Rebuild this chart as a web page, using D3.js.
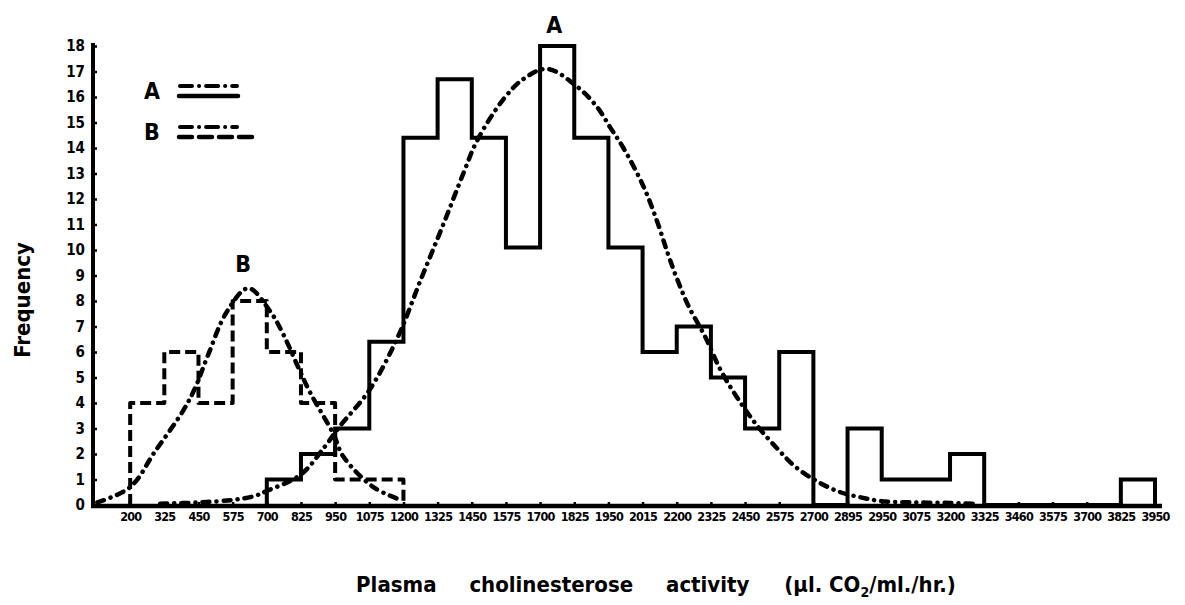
<!DOCTYPE html>
<html>
<head>
<meta charset="utf-8">
<script src="https://cdn.jsdelivr.net/npm/d3@7"></script>
<style>
  html, body { margin: 0; padding: 0; background: #fff; }
  svg { display: block; }
  text { font-family: "DejaVu Sans Condensed", "DejaVu Sans", sans-serif; font-weight: bold; fill: #000; }
</style>
</head>
<body>
<svg id="chart" width="1185" height="605"></svg>
<script>
// ---------- data ----------
const xTickValues = [200, 325, 450, 575, 700, 825, 950, 1075, 1200, 1325, 1450, 1575, 1700, 1825, 1950, 2075,
  2200, 2325, 2450, 2575, 2700, 2825, 2950, 3075, 3200, 3325, 3450, 3575, 3700, 3825, 3950];
const xTickLabels = ["200", "325", "450", "575", "700", "825", "950", "1075", "1200", "1325", "1450", "1575", "1700", "1825", "1950", "2015",
  "2200", "2325", "2450", "2575", "2700", "2895", "2950", "3075", "3200", "3325", "3460", "3575", "3700", "3825", "3950"];
const yTickValues = [0, 1, 2, 3, 4, 5, 6, 7, 8, 9, 10, 11, 12, 13, 14, 15, 16, 17, 18];

// Histogram A (solid) : bin edges and frequencies
const binEdgesA = [700, 825, 950, 1075, 1200, 1325, 1450, 1575, 1700, 1825, 1950, 2075, 2200, 2325, 2450, 2575,
  2700, 2825, 2950, 3075, 3200, 3325, 3450, 3575, 3700, 3825, 3950];
const freqA = [1, 2, 3, 6.4, 14.4, 16.7, 14.4, 10.1, 18, 14.4, 10.1, 6, 7, 5, 3, 6, 0, 3, 1, 1, 2, 0, 0, 0, 0, 1];

// Histogram B (dashed)
const binEdgesB = [200, 325, 450, 575, 700, 825, 950, 1075, 1200];
const freqB = [4, 6, 4, 8, 6, 4, 1, 1];

// Fitted curve A (dash-dot)
const curveAx = [310, 450, 575, 654, 700, 825, 913, 968, 1075, 1180, 1262, 1342, 1419, 1470, 1565, 1638, 1726,
  1836, 1909, 1957, 2005, 2078, 2129, 2166, 2200, 2243, 2304, 2360, 2422, 2495, 2569, 2634, 2718, 2799, 2873, 2950, 3075, 3200, 3290];
const curveAy = [0.05, 0.1, 0.2, 0.35, 0.55, 1.2, 2.3, 3.1, 4.5, 6.6, 8.8, 10.9, 13.0, 14.3, 15.9, 16.7, 17.1,
  16.4, 15.6, 14.8, 14.0, 12.5, 11.1, 9.9, 8.9, 7.8, 6.6, 5.3, 4.2, 3.1, 2.2, 1.5, 0.9, 0.5, 0.3, 0.15, 0.1, 0.08, 0.05];

// Fitted curve B (dash-dot)
const curveBx = [80, 200, 291, 394, 438, 482, 555, 632, 712, 760, 815, 859, 943, 980, 1090, 1190];
const curveBy = [0.1, 0.7, 2.1, 3.7, 4.6, 5.8, 7.6, 8.5, 7.6, 6.7, 5.4, 4.4, 2.8, 1.9, 0.7, 0.2];

const legendKeys = ["A", "B"];

// ---------- scales ----------
const svg = d3.select("#chart");
const x = d3.scaleLinear().domain([75, 3950]).range([96, 1155]);
const y = d3.scaleLinear().domain([0, 18]).range([505, 46]);

// ---------- axes ----------
const yAxis = d3.axisLeft(y).tickValues(yTickValues).tickSize(-4).tickPadding(8);
const gy = svg.append("g").attr("transform", `translate(${x.range()[0] - 3},0)`).call(yAxis);
gy.select(".domain").remove();
gy.selectAll(".tick line").attr("stroke", "#000").attr("stroke-width", 2.5);
gy.selectAll(".tick text").attr("font-size", 15).style("font-family", "'DejaVu Sans Condensed','DejaVu Sans',sans-serif").style("font-weight", "bold");
gy.selectAll(".tick").filter(d => d === 0).select("line").remove();

const xAxis = d3.axisBottom(x).tickValues(xTickValues).tickSize(-4).tickPadding(6)
  .tickFormat((d, i) => xTickLabels[i]);
const gx = svg.append("g").attr("transform", `translate(0,${y(0) + 1})`).call(xAxis);
gx.select(".domain").remove();
gx.selectAll(".tick line").attr("stroke", "#000").attr("stroke-width", 2.5);
gx.selectAll(".tick text").attr("font-size", 12.5).attr("letter-spacing", -0.8)
  .style("font-family", "'DejaVu Sans Condensed','DejaVu Sans',sans-serif").style("font-weight", "bold");

// axis lines
svg.append("line").attr("x1", x.range()[0] - 3).attr("x2", x.range()[0] - 3)
  .attr("y1", y(18) - 3).attr("y2", y(0) + 3).attr("stroke", "#000").attr("stroke-width", 4);
svg.append("line").attr("x1", x.range()[0] - 5).attr("x2", x(3950) + 7)
  .attr("y1", y(0) + 1).attr("y2", y(0) + 1).attr("stroke", "#000").attr("stroke-width", 4.5);

// ---------- histograms ----------
function stepPath(edges, freqs) {
  const pts = [[edges[0], 0]];
  freqs.forEach((f, i) => { pts.push([edges[i], f]); pts.push([edges[i + 1], f]); });
  pts.push([edges[edges.length - 1], 0]);
  return d3.line().x(d => x(d[0])).y(d => y(d[1]))(pts);
}
svg.append("path").attr("d", stepPath(binEdgesB, freqB))
  .attr("fill", "none").attr("stroke", "#000").attr("stroke-width", 4)
  .attr("stroke-dasharray", "11,5").attr("stroke-linejoin", "round");
svg.append("path").attr("d", stepPath(binEdgesA, freqA))
  .attr("fill", "none").attr("stroke", "#000").attr("stroke-width", 4)
  .attr("stroke-linejoin", "miter");

// ---------- fitted curves ----------
const curveLine = d3.line().x(d => x(d[0])).y(d => y(d[1])).curve(d3.curveCatmullRom.alpha(0.5));
const dashDot = "7,7,0.1,7";
svg.append("path").attr("d", curveLine(curveBx.map((v, i) => [v, curveBy[i]])))
  .attr("fill", "none").attr("stroke", "#000").attr("stroke-width", 4.5)
  .attr("stroke-linecap", "round").attr("stroke-dasharray", dashDot);
svg.append("path").attr("d", curveLine(curveAx.map((v, i) => [v, curveAy[i]])))
  .attr("fill", "none").attr("stroke", "#000").attr("stroke-width", 4.5)
  .attr("stroke-linecap", "round").attr("stroke-dasharray", dashDot);

// curve labels
svg.append("text").attr("x", x(1726) + 7).attr("y", y(18) - 13).attr("text-anchor", "middle")
  .attr("font-size", 23).text(legendKeys[0]);
svg.append("text").attr("x", x(632) - 5).attr("y", y(8.5) - 16).attr("text-anchor", "middle")
  .attr("font-size", 23).text(legendKeys[1]);

// ---------- legend ----------
const legend = svg.append("g");
const legendRows = [
  { key: legendKeys[0], y: 91, lower: { dash: null, x2: 238 } },
  { key: legendKeys[1], y: 132, lower: { dash: "13,7", x2: 253 } }
];
legendRows.forEach(r => {
  legend.append("text").attr("x", 152).attr("y", r.y + 8).attr("text-anchor", "middle")
    .attr("font-size", 23).text(r.key);
  legend.append("line").attr("x1", 180).attr("x2", 237).attr("y1", r.y - 5).attr("y2", r.y - 5)
    .attr("stroke", "#000").attr("stroke-width", 4).attr("stroke-linecap", "round")
    .attr("stroke-dasharray", "12,7,0.1,7");
  const l = legend.append("line").attr("x1", 179).attr("x2", r.lower.x2).attr("y1", r.y + 5).attr("y2", r.y + 5)
    .attr("stroke", "#000").attr("stroke-width", 4.5).attr("stroke-linecap", "round");
  if (r.lower.dash) l.attr("stroke-dasharray", r.lower.dash);
});

// ---------- axis titles ----------
svg.append("text").attr("transform", "translate(30,300) rotate(-90)").attr("text-anchor", "middle")
  .attr("font-size", 22).text("Frequency");

const xt = svg.append("text").attr("x", 656).attr("y", 592).attr("text-anchor", "middle")
  .attr("font-size", 22);
xt.append("tspan").attr("word-spacing", 26).text("Plasma cholinesterose activity ");
xt.append("tspan").attr("dx", 2).text("(\u00B5l. CO");
xt.append("tspan").attr("font-size", 14).attr("dy", 5).text("2");
xt.append("tspan").attr("dy", -5).text("/ml./hr.)");
</script>
</body>
</html>
